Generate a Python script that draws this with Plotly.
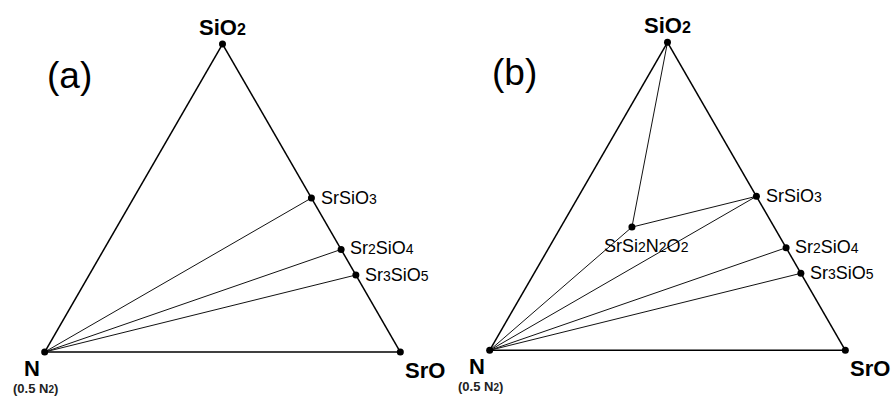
import math
import plotly.graph_objects as go

# ---- data: compositions as (SiO2, N, SrO) fractions ----
names = ["SiO2", "N", "SrO", "SrSiO3", "Sr2SiO4", "Sr3SiO5", "SrSi2N2O2"]
a_sio2 = [1.0, 0.0, 0.0, 0.5, 0.333, 0.25, 0.4]
b_n = [0.0, 1.0, 0.0, 0.0, 0.0, 0.0, 0.4]
c_sro = [0.0, 0.0, 1.0, 0.5, 0.667, 0.75, 0.2]

panel_labels = ["(a)", "(b)"]
points_a = ["SiO2", "N", "SrO", "SrSiO3", "Sr2SiO4", "Sr3SiO5"]
points_b = ["SiO2", "N", "SrO", "SrSiO3", "Sr2SiO4", "Sr3SiO5", "SrSi2N2O2"]
ties_a = [("N", "SrSiO3"), ("N", "Sr2SiO4"), ("N", "Sr3SiO5")]
ties_b = [("N", "SrSi2N2O2"), ("N", "SrSiO3"), ("N", "Sr2SiO4"), ("N", "Sr3SiO5"),
          ("SiO2", "SrSi2N2O2"), ("SrSi2N2O2", "SrSiO3")]

label_html = {
    "SiO2": "<b>SiO<span style='font-size:16px'>2</span></b>",
    "N": "<b>N</b>",
    "SrO": "<b>SrO</b>",
    "SrSiO3": "SrSiO<span style='font-size:14px'>3</span>",
    "Sr2SiO4": "Sr<span style='font-size:14px'>2</span>SiO<span style='font-size:14px'>4</span>",
    "Sr3SiO5": "Sr<span style='font-size:14px'>3</span>SiO<span style='font-size:14px'>5</span>",
    "SrSi2N2O2": "SrSi<span style='font-size:14px'>2</span>N<span style='font-size:14px'>2</span>O<span style='font-size:14px'>2</span>",
}
sub_n = "<b>(0.5 N<span style='font-size:10px'>2</span>)</b>"

# ---- layout geometry ----
W, H = 895, 398
SQ3 = math.sqrt(3)
tri_h = 308.0
panels = [
    dict(cx=222.5, cy=198.0, plabel=(69, 75)),
    dict(cx=667.5, cy=196.3, plabel=(514, 72)),
]
idx = {n: i for i, n in enumerate(names)}


def to_paper(name, p):
    i = idx[name]
    a, b, c = a_sio2[i], b_n[i], c_sro[i]
    w = tri_h * 2 / SQ3
    x = p["cx"] - w / 2 + (c + a / 2) * w
    y = p["cy"] + tri_h / 2 - a * tri_h
    return x / W, 1 - y / H


# label offsets (px): dx, dy(up), xanchor
offsets = {
    "SiO2": (0, 17, "center"),
    "N": (-13, -16, "center"),
    "SrO": (25, -18, "center"),
    "SrSiO3": (8, 0, "left"),
    "Sr2SiO4": (7, 1, "left"),
    "Sr3SiO5": (7, 0, "left"),
    "SrSi2N2O2": (15, -19, "center"),
}

fig = go.Figure()
annotations = []
ternaries = ["ternary", "ternary2"]
layout_kw = {}
for k, (p, pts, ties) in enumerate(zip(panels, [points_a, points_b], [ties_a, ties_b])):
    sub = ternaries[k]
    for (u, v) in ties:
        iu, iv = idx[u], idx[v]
        fig.add_trace(go.Scatterternary(
            a=[a_sio2[iu], a_sio2[iv]], b=[b_n[iu], b_n[iv]], c=[c_sro[iu], c_sro[iv]],
            mode="lines", line=dict(color="#111111", width=1), subplot=sub,
            hoverinfo="skip", showlegend=False, cliponaxis=False))
    ii = [idx[n] for n in pts]
    fig.add_trace(go.Scatterternary(
        a=[a_sio2[i] for i in ii], b=[b_n[i] for i in ii], c=[c_sro[i] for i in ii],
        mode="markers", marker=dict(color="black", size=7), subplot=sub,
        text=pts, hoverinfo="text", showlegend=False, cliponaxis=False))

    h_frac = tri_h / H
    ycen = 1 - p["cy"] / H
    xcen = p["cx"] / W
    axis_style = dict(showgrid=False, showticklabels=False, ticks="", showline=True,
                      linecolor="black", linewidth=1.5, title=dict(text=""))
    layout_kw[sub] = dict(
        domain=dict(x=[xcen - 0.22, xcen + 0.22], y=[ycen - h_frac / 2, ycen + h_frac / 2]),
        bgcolor="white", sum=1,
        aaxis=axis_style, baxis=axis_style, caxis=axis_style)

    for n in pts:
        px, py = to_paper(n, p)
        dx, dy, xa = offsets[n]
        big = n in ("SiO2", "N", "SrO")
        annotations.append(dict(
            x=px, y=py, xref="paper", yref="paper", text=label_html[n], showarrow=False,
            xanchor=xa, yanchor="middle", xshift=dx, yshift=dy,
            font=dict(family="Liberation Sans, Arial, sans-serif",
                      size=22 if big else 18, color="black")))
        if n == "N":
            annotations.append(dict(
                x=px, y=py, xref="paper", yref="paper", text=sub_n, showarrow=False,
                xanchor="center", yanchor="middle", xshift=-9, yshift=-36,
                font=dict(family="Liberation Sans, Arial, sans-serif", size=13, color="#222")))
    annotations.append(dict(
        x=p["plabel"][0] / W, y=1 - p["plabel"][1] / H, xref="paper", yref="paper",
        text=panel_labels[k], showarrow=False, xanchor="center", yanchor="middle",
        font=dict(family="Liberation Sans, Arial, sans-serif", size=37, color="black")))

fig.update_layout(width=W, height=H, margin=dict(l=0, r=0, t=0, b=0),
                  paper_bgcolor="white", plot_bgcolor="white",
                  annotations=annotations, **layout_kw)
fig.write_html("out.html", config={"displayModeBar": False},
               post_script="document.body.style.margin='0';document.body.style.overflow='hidden';")
